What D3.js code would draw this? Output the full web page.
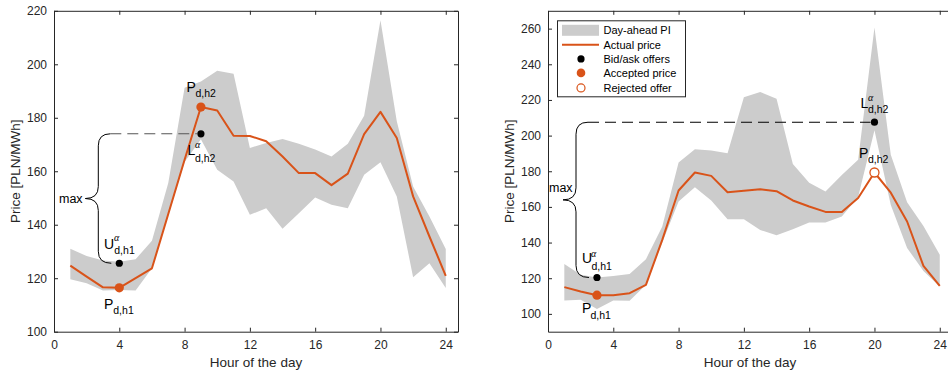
<!DOCTYPE html>
<html><head><meta charset="utf-8">
<script src="https://cdn.jsdelivr.net/npm/d3@7"></script>
<style>
html,body{margin:0;padding:0;background:#fff;}
svg{display:block;font-family:"Liberation Sans",Arial,Helvetica,sans-serif;}
</style></head>
<body>
<svg id="chart" width="948" height="374"></svg>
<script>
// ---------------- data ----------------
const hours = [1,2,3,4,5,6,7,8,9,10,11,12,13,14,15,16,17,18,19,20,21,22,23,24];
const xTicks = [0,4,8,12,16,20,24];
const leftYTicks = [100,120,140,160,180,200,220];
const rightYTicks = [100,120,140,160,180,200,220,240,260];

const leftActual = [124.7,120.6,116.6,116.4,120.0,123.7,144.0,164.3,184.0,182.7,173.3,173.2,171.2,165.5,159.3,159.3,154.8,159.1,173.9,182.2,172.4,150.6,135.6,120.9];
const leftUpper  = [131.0,128.3,126.6,126.2,127.1,134.0,155.6,191.2,193.6,197.6,196.5,168.7,170.6,172.1,170.3,168.1,165.5,170.3,180.8,216.5,178.7,154.3,143.1,130.9];
const leftLower  = [119.6,118.1,115.4,115.6,115.4,123.7,143.5,163.5,172.0,160.6,156.2,143.7,146.2,138.5,144.3,150.2,147.5,146.2,158.7,163.4,150.6,120.4,125.6,116.3];

const rightActual = [115.0,112.5,110.5,110.5,111.6,116.3,141.5,169.2,179.3,177.4,168.2,169.0,169.9,168.8,163.6,160.2,157.2,157.2,165.0,179.3,168.0,151.8,126.9,115.7];
const rightUpper  = [128.0,122.0,120.4,121.3,122.4,130.7,149.0,184.9,192.3,191.6,190.1,221.5,224.5,220.7,184.1,173.6,168.6,177.9,186.4,260.6,189.2,162.6,149.3,133.1];
const rightLower  = [107.5,107.9,102.8,107.5,107.3,116.3,140.0,163.0,171.0,163.6,153.1,153.1,147.1,144.1,147.5,151.2,151.2,154.6,165.5,203.0,161.0,137.0,124.0,115.3];

// markers: [hour, value, kind]
const leftMarkers  = [[4,125.6,"bid"],[9,174.0,"bid"],[4,116.4,"acc"],[9,184.0,"acc"]];
const rightMarkers = [[3,120.4,"bid"],[20,207.5,"bid"],[3,110.5,"acc"],[20,179.3,"rej"]];

// brace: [hour of upper offer, upper value, hour of lower offer, lower value]
const leftBrace  = [9,174.0,4,125.6];
const rightBrace = [20,207.5,3,120.4];

const legendLabels = ["Day-ahead PI","Actual price","Bid/ask offers","Accepted price","Rejected offer"];

// annotation labels: [hour, value, main, sup, sub, dx, dy(main baseline), supDx, supDy, subDx, subDy]
const leftLabels = [
  [4,125.6,"U","α","d,h1",-15.3,-14,-5.3,-22.5,-5.0,-9.2],
  [4,116.4,"P","","d,h1",-15.3,21.5,0,0,-6.0,26.5],
  [9,184.0,"P","","d,h2",-14.3,-15.3,0,0,-5.5,-10.3],
  [9,174.0,"L","α","d,h2",-13.3,21,-6,14,-6,28]
];
const rightLabels = [
  [3,120.4,"U","α","d,h1",-15,-14.2,-6,-20.5,-5.5,-7.5],
  [3,110.5,"P","","d,h1",-15,18,0,0,-6.5,24],
  [20,207.5,"L","α","d,h2",-14,-14,-6.4,-21,-6.5,-9],
  [20,179.3,"P","","d,h2",-15.4,-14.2,0,0,-6.5,-9.2]
];

// ---------------- drawing ----------------
const ORANGE = "#D95319", GRAY = "#CCCCCC", AX = "#262626";
const svg = d3.select("#chart");

function drawPanel(cfg){
  const x = d3.scaleLinear().domain([0,24.75]).range([cfg.x0,cfg.x0+404]);
  const y = d3.scaleLinear().domain(cfg.yDom).range([331.7,10.8]);
  const g = svg.append("g");

  // band
  g.append("path")
    .attr("d", d3.area().x((d,i)=>x(hours[i])).y0((d,i)=>y(cfg.lower[i])).y1((d,i)=>y(cfg.upper[i]))(hours))
    .attr("fill", GRAY).attr("stroke","none");

  // axes
  const xb = g.append("g").attr("transform",`translate(0,${y.range()[0]})`)
    .call(d3.axisBottom(x).tickValues(xTicks).tickSizeInner(-4).tickSizeOuter(0).tickPadding(9));
  const xt = g.append("g").attr("transform",`translate(0,${y.range()[1]})`)
    .call(d3.axisTop(x).tickValues(xTicks).tickSizeInner(-4).tickSizeOuter(0).tickFormat(""));
  const yl = g.append("g").attr("transform",`translate(${x.range()[0]},0)`)
    .call(d3.axisLeft(y).tickValues(cfg.yTicks).tickSizeInner(-4).tickSizeOuter(0).tickPadding(7));
  const yr = g.append("g").attr("transform",`translate(${x.range()[1]},0)`)
    .call(d3.axisRight(y).tickValues(cfg.yTicks).tickSizeInner(-4).tickSizeOuter(0).tickFormat(""));
  [xb,xt,yl,yr].forEach(a=>{
    a.selectAll("path.domain").attr("stroke",AX).attr("stroke-width",1);
    a.selectAll(".tick line").attr("stroke",AX).attr("stroke-width",1);
    a.selectAll("text").attr("fill",AX).style("font-size","12px").style("font-family","inherit");
  });

  // axis titles
  g.append("text").attr("x",(x.range()[0]+x.range()[1])/2).attr("y",367)
    .attr("text-anchor","middle").attr("fill",AX).style("font-size","13.5px").text("Hour of the day");
  g.append("text").attr("transform",`translate(${x.range()[0]-39},${(y.range()[0]+y.range()[1])/2}) rotate(-90)`)
    .attr("text-anchor","middle").attr("dominant-baseline","central").attr("fill",AX)
    .style("font-size","13.5px").text("Price [PLN/MWh]");

  // actual price line
  g.append("path")
    .attr("d", d3.line().x((d,i)=>x(hours[i])).y((d,i)=>y(cfg.actual[i]))(hours))
    .attr("fill","none").attr("stroke",ORANGE).attr("stroke-width",2).attr("stroke-linejoin","round");

  // brace + dashed line
  const [hTop,vTop,hBot,vBot] = cfg.brace;
  const bx = cfg.braceX, yT = y(vTop), yB = y(vBot), ym = (yT+yB)/2, r = 12, tip = 13;
  g.append("path")
    .attr("d", `M${bx+r},${yT} Q${bx},${yT} ${bx},${yT+r} L${bx},${ym-r} Q${bx},${ym} ${bx-tip},${ym} Q${bx},${ym} ${bx},${ym+r} L${bx},${yB-r} Q${bx},${yB} ${bx+r+1},${yB}`)
    .attr("fill","none").attr("stroke","#000").attr("stroke-width",1);
  g.append("line").attr("x1",bx+r).attr("x2",x(hTop)-4).attr("y1",yT).attr("y2",yT)
    .attr("stroke",cfg.dashColor).attr("stroke-width",1.1).attr("stroke-dasharray","11,6");
  g.append("text").attr("x",cfg.maxPos[0]).attr("y",cfg.maxPos[1]).attr("fill","#000")
    .style("font-size","12.5px").text("max");

  // markers
  cfg.markers.forEach(([h,v,k])=>{
    const c = g.append("circle").attr("cx",x(h)).attr("cy",y(v));
    if(k==="bid") c.attr("r",3.6).attr("fill","#000");
    else if(k==="acc") c.attr("r",4.6).attr("fill",ORANGE);
    else c.attr("r",4.5).attr("fill","#fff").attr("stroke",ORANGE).attr("stroke-width",1.3);
  });

  // labels
  cfg.labels.forEach(([h,v,m,sup,sub,dx,dy,sdx,sdy,bdx,bdy])=>{
    const px = x(h), py = y(v);
    g.append("text").attr("x",px+dx).attr("y",py+dy).attr("fill","#000").style("font-size","14px").text(m);
    if(sup) g.append("text").attr("x",px+sdx).attr("y",py+sdy).attr("fill","#000")
      .style("font-size","10px").style("font-family","'Liberation Serif','Times New Roman',serif").style("font-style","italic").text(sup);
    g.append("text").attr("x",px+bdx).attr("y",py+bdy).attr("fill","#000").style("font-size","10.5px").text(sub);
  });
  return {x,y,g};
}

drawPanel({x0:54, yDom:[100,220], yTicks:leftYTicks, actual:leftActual, upper:leftUpper, lower:leftLower,
  markers:leftMarkers, brace:leftBrace, braceX:98.3, dashColor:"#555", maxPos:[59,203], labels:leftLabels});
drawPanel({x0:548, yDom:[90,270], yTicks:rightYTicks, actual:rightActual, upper:rightUpper, lower:rightLower,
  markers:rightMarkers, brace:rightBrace, braceX:576, dashColor:"#000", maxPos:[549,192], labels:rightLabels});

// legend
const lg = svg.append("g");
lg.append("rect").attr("x",557.5).attr("y",20.8).attr("width",128).attr("height",76)
  .attr("fill","#fff").attr("stroke",AX).attr("stroke-width",1);
const rowY = [30.3,44.8,58.9,72.9,87.9];
legendLabels.forEach((t,i)=>{
  const yy = rowY[i];
  if(i===0) lg.append("rect").attr("x",562).attr("y",yy-5.5).attr("width",37).attr("height",11).attr("fill",GRAY);
  else if(i===1) lg.append("line").attr("x1",562).attr("x2",599).attr("y1",yy).attr("y2",yy).attr("stroke",ORANGE).attr("stroke-width",2);
  else if(i===2) lg.append("circle").attr("cx",581).attr("cy",yy).attr("r",3.6).attr("fill","#000");
  else if(i===3) lg.append("circle").attr("cx",581).attr("cy",yy).attr("r",4.3).attr("fill",ORANGE);
  else lg.append("circle").attr("cx",581).attr("cy",yy).attr("r",4.0).attr("fill","#fff").attr("stroke",ORANGE).attr("stroke-width",1.2);
  lg.append("text").attr("x",603.5).attr("y",yy).attr("dominant-baseline","central").attr("fill","#000")
    .style("font-size","11px").text(t);
});
</script>
</body></html>
